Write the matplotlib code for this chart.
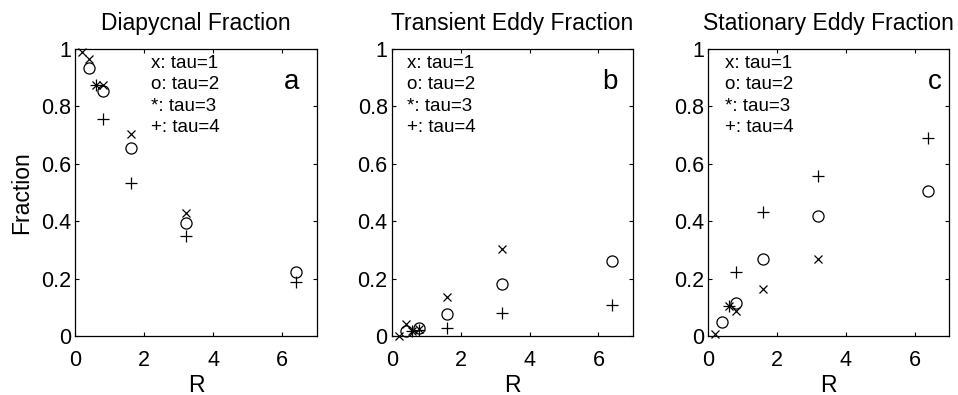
import numpy as np
import matplotlib.pyplot as plt

plt.rcParams['font.family'] = ['Liberation Sans', 'DejaVu Sans']

# R values for each tau
r_tau1 = [0.2, 0.4, 0.8, 1.6, 3.2]
r_tau2 = [0.4, 0.8, 1.6, 3.2, 6.4]
r_tau3 = [0.6]
r_tau4 = [0.8, 1.6, 3.2, 6.4]

# diapycnal fraction
dia_tau1 = [0.99, 0.965, 0.875, 0.705, 0.43]
dia_tau2 = [0.935, 0.855, 0.655, 0.395, 0.225]
dia_tau3 = [0.875]
dia_tau4 = [0.755, 0.535, 0.35, 0.19]

# transient eddy fraction
tr_tau1 = [0.0, 0.044, 0.025, 0.135, 0.302]
tr_tau2 = [0.018, 0.027, 0.077, 0.18, 0.262]
tr_tau3 = [0.018]
tr_tau4 = [0.02, 0.027, 0.079, 0.108]

# stationary eddy fraction (tau=1, R=0.4 falls just below 0 -> not shown)
st_tau1 = [0.008, np.nan, 0.087, 0.163, 0.267]
st_tau2 = [0.05, 0.114, 0.267, 0.42, 0.505]
st_tau3 = [0.105]
st_tau4 = [0.222, 0.431, 0.558, 0.691]

titles = ['Diapycnal Fraction', 'Transient Eddy Fraction', 'Stationary Eddy Fraction']
letters = ['a', 'b', 'c']
legend_lines = ['x: tau=1', 'o: tau=2', '*: tau=3', '+: tau=4']

panels = [
    (dia_tau1, dia_tau2, dia_tau3, dia_tau4),
    (tr_tau1, tr_tau2, tr_tau3, tr_tau4),
    (st_tau1, st_tau2, st_tau3, st_tau4),
]

fig = plt.figure(figsize=(9.58, 3.95), dpi=100)
lefts = [0.0788, 0.409, 0.739]
text_x = [2.2, 0.45, 0.5]
letter_x = [6.05, 6.1, 6.4]

for i, (y1, y2, y3, y4) in enumerate(panels):
    ax = fig.add_axes([lefts[i], 0.149, 0.2516, 0.727])
    ax.plot(r_tau1, y1, 'kx', ms=6, mew=0.9, clip_on=False)
    ax.plot(r_tau2, y2, 'ko', ms=8, mfc='none', mew=0.9, clip_on=False)
    # matlab style asterisk: plus and cross on top of each other
    ax.plot(r_tau3, y3, 'k+', ms=8, mew=0.9, clip_on=False)
    ax.plot(r_tau3, y3, 'kx', ms=6, mew=0.9, clip_on=False)
    ax.plot(r_tau4, y4, 'k+', ms=9, mew=0.9, clip_on=False)
    ax.set_xlim(0, 7)
    ax.set_ylim(0, 1)
    ax.set_xticks([0, 2, 4, 6])
    ax.set_yticks([0, 0.2, 0.4, 0.6, 0.8, 1])
    ax.set_yticklabels(['0', '0.2', '0.4', '0.6', '0.8', '1'])
    ax.tick_params(direction='in', top=True, right=True, labelsize=15.5,
                   length=3, width=0.8)
    ax.tick_params(axis='x', pad=10)
    ax.tick_params(axis='y', pad=3)
    for s in ax.spines.values():
        s.set_linewidth(0.9)
    ax.set_title(titles[i], fontsize=16.5, pad=14)
    ax.set_xlabel('R', fontsize=16.5, labelpad=2)
    for k, line in enumerate(legend_lines):
        ax.text(text_x[i], 0.95 - k * 0.075, line, fontsize=13.5, va='center')
    ax.text(letter_x[i], 0.885, letters[i], fontsize=20, va='center')
    if i == 0:
        ax.set_ylabel('Fraction', fontsize=16.5, labelpad=6)

fig.savefig('out.png', dpi=100)
